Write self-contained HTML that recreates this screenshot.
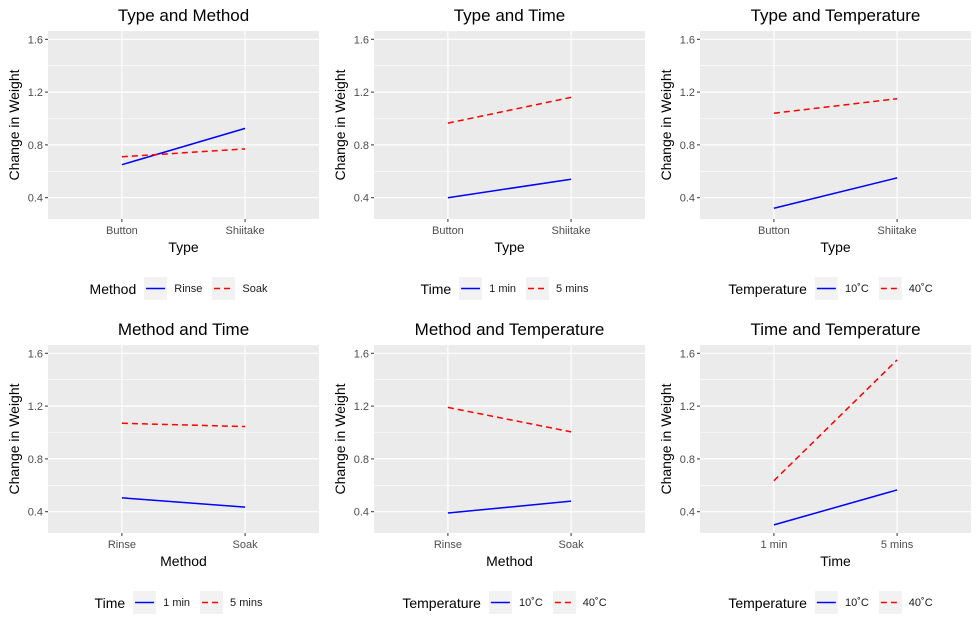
<!DOCTYPE html>
<html><head><meta charset="utf-8">
<style>
body{margin:0;background:#fff;font-family:"Liberation Sans",Arial,sans-serif;}
#wrap{position:relative;width:978px;height:628px;overflow:hidden}
.leg{position:absolute;display:flex;align-items:center;transform:translateX(-50%);white-space:nowrap}
.leg .t{font-size:14px;color:#000;margin-right:8px}
.leg .k{width:23px;height:23px;background:#f2f2f2;position:relative}
.leg .l{font-size:11px;color:#1a1a1a;margin:0 10px 0 7px}
</style></head><body>
<div id="wrap">
<svg id="svg" width="978" height="628"></svg>
</div>
<script>
const titles=["Type and Method","Type and Time","Type and Temperature","Method and Time","Method and Temperature","Time and Temperature"];
const xTitles=["Type","Type","Type","Method","Method","Time"];
const xCats=[["Button","Shiitake"],["Button","Shiitake"],["Button","Shiitake"],["Rinse","Soak"],["Rinse","Soak"],["1 min","5 mins"]];
const legTitles=["Method","Time","Temperature","Time","Temperature","Temperature"];
const legLabels=[["Rinse","Soak"],["1 min","5 mins"],["10˚C","40˚C"],["1 min","5 mins"],["10˚C","40˚C"],["10˚C","40˚C"]];
const seriesA=[[0.65,0.925],[0.40,0.54],[0.32,0.55],[0.505,0.435],[0.39,0.48],[0.30,0.565]];
const seriesB=[[0.71,0.77],[0.965,1.16],[1.04,1.15],[1.07,1.045],[1.19,1.005],[0.635,1.55]];
const yTicks=[0.4,0.8,1.2,1.6];
const yMinor=[0.6,1.0,1.4];

const NS="http://www.w3.org/2000/svg";
const svg=document.getElementById('svg');
const wrap=document.getElementById('wrap');
function mk(tag,attrs,parent){const e=document.createElementNS(NS,tag);for(const k in attrs)e.setAttribute(k,attrs[k]);(parent||svg).appendChild(e);return e;}
for(let p=0;p<6;p++){
  const ox=(p%3)*326, oy=Math.floor(p/3)*314;
  const L=ox+48,R=ox+319,T=oy+31,B=oy+219;
  const yv=v=>oy+197.7-(v-0.4)*132;
  const xv=i=>L+(0.6+i)*(R-L)/2.2;
  const g=mk('g',{});
  
  
  const bg=mk('rect',{x:L,y:T,width:R-L,height:B-T,fill:'#ebebeb'},g);
  
  
  yMinor.forEach(v=>mk('line',{x1:L,x2:R,y1:yv(v),y2:yv(v),stroke:'#fff','stroke-width':0.6},g));
  yTicks.forEach(v=>{
    mk('line',{x1:L,x2:R,y1:yv(v),y2:yv(v),stroke:'#fff','stroke-width':1.2},g);
    mk('line',{x1:L-3,x2:L,y1:yv(v),y2:yv(v),stroke:'#333','stroke-width':1},g);
    const t=mk('text',{x:L-5,y:yv(v)+4,'text-anchor':'end','font-size':11,fill:'#4d4d4d'},g);
    t.textContent=v.toFixed(1);
    
    
  });
  xCats[p].forEach((c,i)=>{
    mk('line',{x1:xv(i),x2:xv(i),y1:T,y2:B,stroke:'#fff','stroke-width':1.2},g);
    mk('line',{x1:xv(i),x2:xv(i),y1:B,y2:B+3,stroke:'#333','stroke-width':1},g);
    const t=mk('text',{x:xv(i),y:B+15,'text-anchor':'middle','font-size':11,fill:'#4d4d4d'},g);
    t.textContent=c;
    
    
  });
  const la=mk('line',{x1:xv(0),y1:yv(seriesA[p][0]),x2:xv(1),y2:yv(seriesA[p][1]),stroke:'#0000ff','stroke-width':1.5},g);
  
  
  const lb=mk('line',{x1:xv(0),y1:yv(seriesB[p][0]),x2:xv(1),y2:yv(seriesB[p][1]),stroke:'#ff0000','stroke-width':1.5,'stroke-dasharray':'6,4'},g);
  
  
  const tt=mk('text',{x:(L+R)/2,y:oy+21,'text-anchor':'middle','font-size':17,fill:'#000'},g);
  tt.textContent=titles[p];
  
  
  const xt=mk('text',{x:(L+R)/2,y:oy+252,'text-anchor':'middle','font-size':14,fill:'#000'},g);
  xt.textContent=xTitles[p];
  
  
  const yt=mk('text',{x:0,y:0,'text-anchor':'middle','font-size':14,fill:'#000',transform:`translate(${ox+19},${(T+B)/2}) rotate(-90)`},g);
  yt.textContent='Change in Weight';
  
  
  const lg=document.createElement('div');
  lg.className='leg';
  
  
  lg.style.left=((L+R)/2)+'px';
  lg.style.top=(oy+277)+'px';
  let h='<span class="t">'+legTitles[p]+'</span>';
  legLabels[p].forEach((lab,i)=>{
    const stroke=i==0?'#0000ff':'#ff0000', dash=i==0?'':'stroke-dasharray="6,4"';
    h+='<span class="k"><svg width="23" height="23"><line x1="2" y1="11.5" x2="21" y2="11.5" stroke="'+stroke+'" stroke-width="1.5" '+dash+'/></svg></span><span class="l">'+lab+'</span>';
  });
  lg.innerHTML=h;
  wrap.appendChild(lg);
}
</script>
</body></html>
